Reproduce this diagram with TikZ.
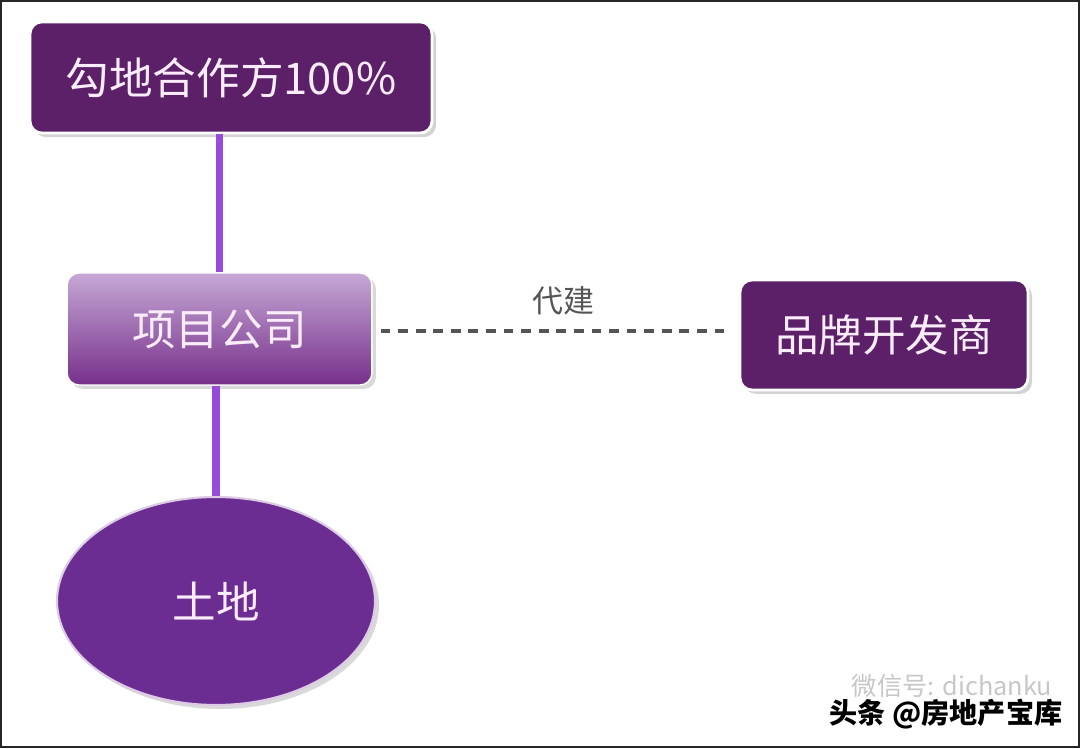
\documentclass[tikz,border=0pt]{standalone}
\usepackage{fontspec}
\newfontfamily\cjk{Noto Sans CJK SC}
\usepackage{tikz}
\usetikzlibrary{calc}
\usetikzlibrary{shapes.geometric}
\usetikzlibrary{shadows}
\usepackage{color}
\definecolor{plum}{RGB}{91, 32, 104}
\definecolor{amethyst}{RGB}{150, 75, 220}
\definecolor{grape}{RGB}{107, 45, 145}
\definecolor{lilac}{RGB}{198, 168, 214}
\definecolor{mauve}{RGB}{118, 48, 138}
\definecolor{petal}{RGB}{250, 236, 250}
\definecolor{slate}{RGB}{85, 85, 85}
\tikzset{
  darkbox/.style={rectangle, rounded corners=0.3cm, fill=plum, draw=white, line width=2pt,
    text=petal, font=\cjk\fontsize{31}{36}\selectfont, inner sep=0pt,
    drop shadow={shadow xshift=0.1cm, shadow yshift=-0.1cm, opacity=0.35}},
  lightbox/.style={rectangle, rounded corners=0.3cm, top color=lilac, bottom color=mauve,
    draw=white, line width=1pt, text=petal, font=\cjk\fontsize{31}{36}\selectfont, inner sep=0pt,
    drop shadow={shadow xshift=0.1cm, shadow yshift=-0.1cm, opacity=0.3}},
  soilshape/.style={ellipse, fill=grape, draw=lilac!60, line width=1.5pt, text=petal,
    font=\cjk\fontsize{31}{36}\selectfont, inner sep=0pt,
    drop shadow={shadow xshift=0.1cm, shadow yshift=-0.1cm, opacity=0.3}},
  link/.style={amethyst, line width=5.5pt},
  agency/.style={slate, line width=2.2pt, dash pattern=on 7pt off 5.5pt},
}
\begin{document}
\begin{tikzpicture}
            \useasboundingbox (0,0) rectangle (27,18.7);
            \draw[black!85, line width=1.2pt] (0.02,0.02) rectangle (26.98,18.68);
            % boxes
            \node[darkbox,  minimum width=10.05cm, minimum height=2.78cm] (partner) at ( 5.775,16.763) {勾地合作方100\%};
            \node[lightbox, minimum width=7.62cm,  minimum height=2.80cm] (project) at ( 5.488,10.475) {项目公司};
            \node[darkbox,  minimum width=7.20cm,  minimum height=2.75cm] (brand)   at (22.100,10.325) {品牌开发商};
            \node[soilshape, minimum width=7.95cm, minimum height=5.20cm] (land)    at ( 5.400, 3.675) {土地};
            % links
            \draw[link] (partner.south -| project.north) -- (project.north);
            \draw[link] (project.south -| land.north) -- (land.north);
            \draw[agency, shorten <=0.2cm, shorten >=0.25cm] ([yshift=-0.05cm]project.east) -- ([yshift=-0.05cm]project.east -| brand.west)
                 node[midway, above=0.25cm, xshift=0.2cm, text=slate, font=\cjk\fontsize{22}{26}\selectfont] (agent) {代建};
            % watermark
            \node[text=black!22, font=\cjk\fontsize{18}{22}\selectfont] (wechat) at (23.80,1.55) {微信号: dichanku};
            \node[text=black, font=\cjk\bfseries\fontsize{20}{24}\selectfont] (toutiao) at (23.65,0.85) {头条 @房地产宝库};
        \end{tikzpicture}
\end{document}
